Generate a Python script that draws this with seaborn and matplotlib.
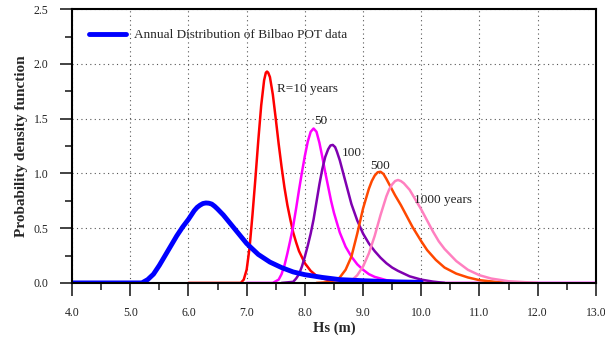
import matplotlib
matplotlib.use("Agg")
import matplotlib.pyplot as plt
import seaborn as sns
import numpy as np
import pandas as pd
from matplotlib.ticker import MultipleLocator, FormatStrFormatter

annual_x = [4.0, 5.0, 5.2, 5.3, 5.4, 5.5, 5.6, 5.7, 5.8, 5.9, 6.0, 6.05, 6.1, 6.15, 6.2, 6.25, 6.3, 6.35, 6.4, 6.45, 6.5, 6.6, 6.7, 6.8, 6.9, 7.0, 7.1, 7.2, 7.3, 7.4, 7.5, 7.6, 7.8, 8.0, 8.3, 8.6, 9.0, 9.5, 10.0]
annual_y = [0, 0, 0.0, 0.03, 0.08, 0.16, 0.25, 0.34, 0.43, 0.51, 0.58, 0.62, 0.66, 0.69, 0.71, 0.725, 0.73, 0.728, 0.72, 0.70, 0.675, 0.62, 0.555, 0.49, 0.425, 0.36, 0.31, 0.26, 0.225, 0.19, 0.165, 0.14, 0.10, 0.075, 0.05, 0.03, 0.02, 0.01, 0.005]

r10_x = [6.0, 6.9, 6.95, 7.0, 7.05, 7.1, 7.15, 7.2, 7.25, 7.3, 7.33, 7.35, 7.37, 7.4, 7.45, 7.5, 7.55, 7.6, 7.65, 7.7, 7.75, 7.8, 7.85, 7.9, 8.0, 8.1, 8.2, 8.3, 8.5, 8.8, 9.0]
r10_y = [0, 0, 0.03, 0.12, 0.32, 0.62, 0.95, 1.30, 1.62, 1.85, 1.92, 1.93, 1.92, 1.88, 1.72, 1.50, 1.27, 1.06, 0.87, 0.71, 0.58, 0.46, 0.37, 0.29, 0.18, 0.11, 0.065, 0.04, 0.014, 0.003, 0]

r50_x = [7.0, 7.45, 7.55, 7.6, 7.65, 7.7, 7.75, 7.8, 7.85, 7.9, 7.95, 8.0, 8.05, 8.1, 8.15, 8.2, 8.25, 8.3, 8.35, 8.4, 8.45, 8.5, 8.6, 8.7, 8.8, 8.9, 9.0, 9.1, 9.2, 9.4, 9.7, 10.0, 13.0]
r50_y = [0, 0, 0.03, 0.08, 0.16, 0.27, 0.39, 0.52, 0.68, 0.85, 1.01, 1.16, 1.29, 1.38, 1.41, 1.38, 1.28, 1.15, 1.01, 0.88, 0.75, 0.64, 0.46, 0.33, 0.24, 0.17, 0.12, 0.08, 0.055, 0.025, 0.007, 0, 0]

r100_x = [7.6, 7.8, 7.85, 7.9, 7.95, 8.0, 8.05, 8.1, 8.15, 8.2, 8.25, 8.3, 8.35, 8.4, 8.44, 8.48, 8.52, 8.55, 8.6, 8.65, 8.7, 8.8, 8.9, 9.0, 9.1, 9.2, 9.3, 9.4, 9.5, 9.6, 9.8, 10.0, 10.2, 10.4]
r100_y = [0, 0.01, 0.04, 0.08, 0.15, 0.24, 0.34, 0.45, 0.58, 0.74, 0.90, 1.04, 1.15, 1.22, 1.255, 1.26, 1.24, 1.20, 1.12, 1.02, 0.92, 0.72, 0.57, 0.45, 0.36, 0.29, 0.23, 0.18, 0.14, 0.11, 0.06, 0.03, 0.012, 0]

r500_x = [8.2, 8.5, 8.6, 8.7, 8.8, 8.9, 9.0, 9.1, 9.15, 9.2, 9.25, 9.3, 9.35, 9.4, 9.45, 9.55, 9.65, 9.75, 9.85, 10.0, 10.1, 10.25, 10.4, 10.6, 10.8, 11.0, 11.3, 11.6]
r500_y = [0, 0.01, 0.05, 0.12, 0.24, 0.45, 0.68, 0.86, 0.93, 0.98, 1.01, 1.015, 0.995, 0.95, 0.90, 0.80, 0.71, 0.61, 0.51, 0.38, 0.30, 0.21, 0.14, 0.085, 0.05, 0.025, 0.008, 0]

r1000_x = [8.5, 8.8, 8.9, 9.0, 9.1, 9.2, 9.3, 9.4, 9.45, 9.5, 9.55, 9.6, 9.65, 9.7, 9.8, 9.9, 10.0, 10.1, 10.2, 10.3, 10.4, 10.6, 10.8, 11.0, 11.2, 11.5, 12.0]
r1000_y = [0, 0.02, 0.07, 0.15, 0.27, 0.43, 0.62, 0.79, 0.855, 0.90, 0.93, 0.94, 0.93, 0.91, 0.85, 0.76, 0.67, 0.57, 0.47, 0.38, 0.31, 0.20, 0.12, 0.07, 0.04, 0.015, 0]

labels = ["R=10 years", "50", "100", "500", "1000 years"]
label_x = [7.52, 8.16, 8.64, 9.12, 9.88]
label_y = [1.77, 1.48, 1.19, 1.07, 0.76]

sns.set_theme(style="white")
plt.rcParams['font.family'] = ['Liberation Serif', 'DejaVu Serif']

fig = plt.figure(figsize=(6.05, 3.38), dpi=100)
ax = fig.add_axes([0.119, 0.163, 0.866, 0.810])

series = [
    (r10_x, r10_y, "#ff0000"),
    (r50_x, r50_y, "#ff00ff"),
    (r100_x, r100_y, "#7f00b0"),
    (r500_x, r500_y, "#ff4800"),
    (r1000_x, r1000_y, "#ff80c0"),
]
for xs, ys, c in series:
    sns.lineplot(x=xs, y=ys, color=c, linewidth=1.8, ax=ax, sort=False)
sns.lineplot(x=annual_x, y=annual_y, color="#0000ff", linewidth=3.5, ax=ax, sort=False,
             label="Annual Distribution of Bilbao POT data")

for t, lx, ly in zip(labels, label_x, label_y):
    ax.text(lx, ly, t, fontsize=9.5, va="center", ha="left", color="#222222")

ax.set_xlim(4, 13)
ax.set_ylim(0, 2.5)
ax.xaxis.set_major_locator(MultipleLocator(1.0))
ax.xaxis.set_minor_locator(MultipleLocator(0.5))
ax.yaxis.set_major_locator(MultipleLocator(0.5))
ax.yaxis.set_minor_locator(MultipleLocator(0.25))
ax.xaxis.set_major_formatter(FormatStrFormatter("%.1f"))
ax.yaxis.set_major_formatter(FormatStrFormatter("%.1f"))
ax.tick_params(which="major", direction="out", length=9, width=1.2, labelsize=8.5, colors="#222222",
               bottom=True, left=True, top=False, right=False, pad=8)
ax.tick_params(which="minor", direction="out", length=5, width=1.2, bottom=True, left=True, top=False, right=False)
ax.grid(True, which="major", linestyle=(0, (1, 3)), color="#555555", linewidth=0.8)
for s in ax.spines.values():
    s.set_color("black")
    s.set_linewidth(1.5)

ax.set_xlabel("Hs (m)", fontsize=10.5, fontweight="bold", labelpad=2)
ax.set_ylabel("Probability density function", fontsize=11, fontweight="bold")

leg = ax.legend(loc="upper left", frameon=False, fontsize=9.5, handlelength=2.8,
                handletextpad=0.6, bbox_to_anchor=(0.01, 0.97))

fig.savefig("out.png", dpi=100)
